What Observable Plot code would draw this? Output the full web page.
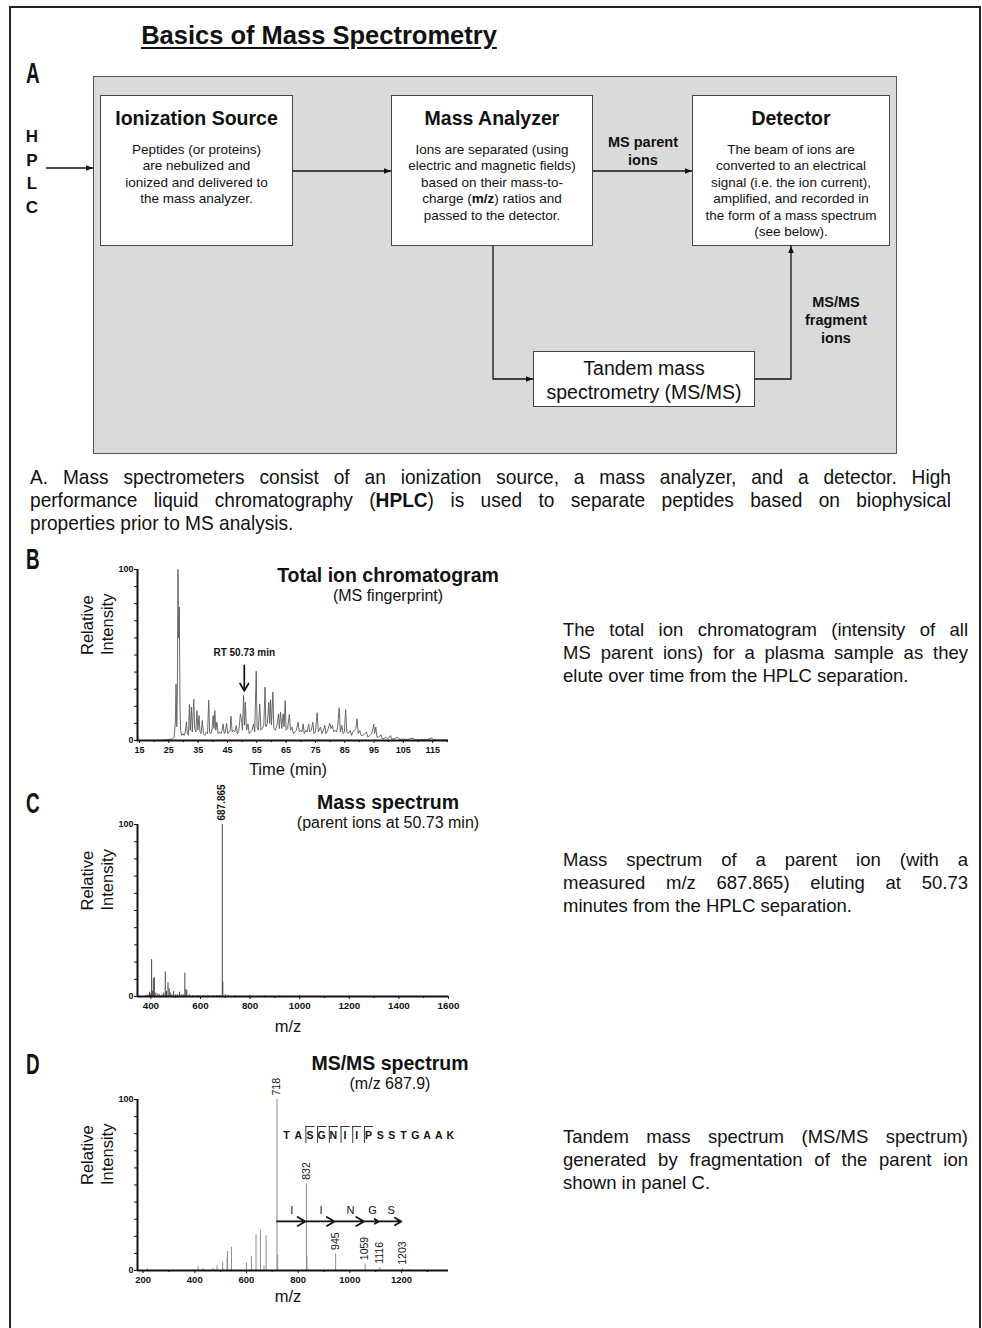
<!DOCTYPE html>
<html>
<head>
<meta charset="utf-8">
<script src="https://cdn.jsdelivr.net/npm/d3@7"></script>
<script src="https://cdn.jsdelivr.net/npm/@observablehq/plot@0.6"></script>
<style>
  body { margin: 0; background: #fff; }
  #page { position: relative; width: 982px; height: 1328px; overflow: hidden;
          font-family: "Liberation Sans", Arial, Helvetica, sans-serif; color: #111; background: #fff; }
  .abs { position: absolute; }
  .frame { left: 9px; top: 6px; width: 968px; height: 1340px; border: 2px solid #222; border-bottom: none; }
  .title { left: 109px; top: 21px; width: 420px; text-align: center; font-weight: bold; font-size: 25.5px; text-decoration: underline; text-underline-offset: 3px; }
  .plet { font-weight: bold; font-size: 29px; line-height: 29px; transform: scaleX(0.65); transform-origin: 0 0; }
  .gray { left: 93px; top: 76px; width: 802px; height: 376px; background: #dadada; border: 1.5px solid #555; }
  .box { background: #fff; border: 1px solid #444; box-sizing: border-box; text-align: center; padding-top: 11px; }
  .box .t { font-weight: bold; font-size: 19.5px; line-height: 22px; }
  .box .b { margin-top: 13px; font-size: 13.5px; line-height: 16.4px; }
  .lbl { font-weight: bold; font-size: 14.5px; line-height: 18px; text-align: center; }
  .hplc { left: 20px; top: 125px; width: 24px; text-align: center; font-weight: bold; font-size: 17px; line-height: 23.5px; }
  .cap { left: 30px; top: 465px; width: 1012px; font-size: 21px; line-height: 23px; transform: scaleX(0.91); transform-origin: 0 0; }
  .jl { text-align: justify; text-align-last: justify; }
  .desc { left: 563px; width: 405px; font-size: 18.5px; line-height: 23px; }
  .desc div { text-align: justify; text-align-last: justify; }
  .desc div.last { text-align: left; text-align-last: left; }
  .ctitle { width: 260px; text-align: center; }
  .ctitle .h { font-weight: bold; font-size: 19.5px; line-height: 22px; }
  .ctitle .s { font-size: 16px; line-height: 20px; }
</style>
</head>
<body>
<div id="page">
  <div class="abs frame"></div>
  <div class="abs title">Basics of Mass Spectrometry</div>

  <div class="abs plet" style="left:26px;top:59px">A</div>
  <div class="abs plet" style="left:26px;top:545px">B</div>
  <div class="abs plet" style="left:26px;top:789px">C</div>
  <div class="abs plet" style="left:26px;top:1050px">D</div>

  <!-- Panel A flow diagram -->
  <div class="abs gray"></div>
  <div class="abs box" style="left:100px;top:95px;width:193px;height:151px">
    <div class="t">Ionization Source</div>
    <div class="b">Peptides (or proteins)<br>are nebulized and<br>ionized and delivered to<br>the mass analyzer.</div>
  </div>
  <div class="abs box" style="left:391px;top:95px;width:202px;height:151px">
    <div class="t">Mass Analyzer</div>
    <div class="b">Ions are separated (using<br>electric and magnetic fields)<br>based on their mass-to-<br>charge (<b>m/z</b>) ratios and<br>passed to the detector.</div>
  </div>
  <div class="abs box" style="left:692px;top:95px;width:198px;height:151px">
    <div class="t">Detector</div>
    <div class="b">The beam of ions are<br>converted to an electrical<br>signal (i.e. the ion current),<br>amplified, and recorded in<br>the form of a mass spectrum<br>(see below).</div>
  </div>
  <div class="abs box" style="left:533px;top:351px;width:222px;height:56px;padding-top:4px;font-size:19.5px;line-height:24px">
    Tandem mass<br>spectrometry (MS/MS)
  </div>
  <div class="abs lbl" style="left:593px;top:133px;width:100px">MS parent<br>ions</div>
  <div class="abs lbl" style="left:786px;top:293px;width:100px">MS/MS<br>fragment<br>ions</div>
  <div class="abs hplc">H<br>P<br>L<br>C</div>

  <svg class="abs" style="left:0;top:0" width="982" height="460">
    <defs>
      <marker id="ah" viewBox="0 0 10 10" refX="10" refY="5" markerWidth="8" markerHeight="7"
              orient="auto" markerUnits="userSpaceOnUse">
        <path d="M0,1 L10,5 L0,9 z" fill="#111"></path>
      </marker>
    </defs>
    <g stroke="#111" stroke-width="1.3" fill="none">
      <path d="M46,168 H93" marker-end="url(#ah)"></path>
      <path d="M293,171 H391" marker-end="url(#ah)"></path>
      <path d="M593,171 H692" marker-end="url(#ah)"></path>
      <path d="M493,246 V379 H533" marker-end="url(#ah)"></path>
      <path d="M755,379 H791 V246" marker-end="url(#ah)"></path>
    </g>
  </svg>

  <div class="abs cap">
    <div class="jl">A. Mass spectrometers consist of an ionization source, a mass analyzer, and a detector. High</div>
    <div class="jl">performance liquid chromatography (<b>HPLC</b>) is used to separate peptides based on biophysical</div>
    <div>properties prior to MS analysis.</div>
  </div>

  <!-- chart containers -->
  <div class="abs" id="chartB" style="left:0;top:540px"></div>
  <div class="abs" id="chartC" style="left:0;top:780px"></div>
  <div class="abs" id="chartD" style="left:0;top:1040px"></div>

  <div class="abs ctitle" style="left:258px;top:564px"><div class="h">Total ion chromatogram</div><div class="s">(MS fingerprint)</div></div>
  <div class="abs ctitle" style="left:258px;top:791px"><div class="h">Mass spectrum</div><div class="s">(parent ions at 50.73 min)</div></div>
  <div class="abs ctitle" style="left:260px;top:1052px"><div class="h">MS/MS spectrum</div><div class="s">(m/z 687.9)</div></div>

  <div class="abs desc" style="top:618px">
    <div>The total ion chromatogram (intensity of all</div>
    <div>MS parent ions) for a plasma sample as they</div>
    <div class="last">elute over time from the HPLC separation.</div>
  </div>
  <div class="abs desc" style="top:848px">
    <div>Mass spectrum of a parent ion (with a</div>
    <div>measured m/z 687.865) eluting at 50.73</div>
    <div class="last">minutes from the HPLC separation.</div>
  </div>
  <div class="abs desc" style="top:1125px">
    <div>Tandem mass spectrum (MS/MS spectrum)</div>
    <div>generated by fragmentation of the parent ion</div>
    <div class="last">shown in panel C.</div>
  </div>
</div>

<script>
// ---------------- Panel B: total ion chromatogram ----------------
const ticTime = [15,20,24,25.5,26.2,26.8,27.2,27.45,27.7,27.9,
  28.1,28.35,28.55,28.8,29.0,29.4,29.8,30.2,30.6,31.0,
  31.3,31.7,32.0,32.3,32.7,33.0,33.5,33.8,34.2,34.6,
  34.9,35.3,35.6,36.0,36.4,36.8,37.3,37.8,38.2,38.6,
  38.9,39.3,39.7,40.1,40.4,40.7,41.0,41.4,41.8,42.3,
  42.8,43.2,43.5,43.9,44.3,44.7,45.1,45.5,45.9,46.2,
  46.6,47.0,47.5,48.0,48.4,48.9,49.4,49.8,50.1,50.5,
  50.8,51.1,51.5,52.0,52.4,52.9,53.4,53.9,54.3,54.8,
  55.1,55.5,56.0,56.4,56.9,57.4,57.8,58.1,58.6,59.1,
  59.4,59.7,60.0,60.5,60.8,61.3,61.9,62.4,62.7,63.1,
  63.5,64.0,64.3,64.7,65.0,65.5,66.1,66.5,67.0,67.5,
  68.0,68.5,69.1,69.5,70.0,70.4,70.8,71.2,71.7,72.2,
  72.7,73.1,73.6,74.1,74.5,75.0,75.6,76.0,76.7,77.2,
  77.7,78.2,78.6,79.2,79.9,80.3,80.8,81.2,81.7,82.2,
  82.6,83.1,83.5,84.0,84.4,84.9,85.3,85.7,86.2,86.9,
  87.3,87.8,88.3,88.8,89.2,89.6,90.1,90.6,91.2,91.8,
  92.4,92.9,93.5,94.2,94.9,95.2,95.6,96.0,96.6,97.4,
  97.8,98.4,99.0,99.5,100.0,100.6,101.0,102.0,103.0,103.5,
  105.0,106.5,107.5,108.3,109,111,113,114.8,115.5,118,
  120];
const ticIntensity = [0,0,0.3,0.8,1,2,10,33,8,30,
  100,60,78,20,6,3,4,3,5,11,
  4,3,21,6,19.5,5,24,7,5,17.5,
  6,14.6,5,4,11.7,4,3,5,4,23.6,
  5,4,6,14.6,7,17.5,6,10.7,4,5,
  4,6,9.7,4,5,10,4,5,6,14.2,
  5,6,5,8.8,4,6,15.6,12,6,26.3,
  9,22.4,6,9.7,4,5,6,9.7,5,40.5,
  8,6,21.4,6,7,9,31.2,8,10,22.4,
  10,23.8,9,28.3,7,6,9,15.6,7,16.6,
  7,15.6,8,23.4,6,7,15.2,6,7.8,4,
  5,6,10.7,5,6,5,9.7,4,6,5,
  9.7,5,6,10.7,4,5,16.2,5,7.8,4,
  6,8.8,4,6,10.1,7,8.8,5,6,5,
  8,19.1,5,8.8,4,5,18.1,5,4,5.8,
  3,5,6,7,12.7,4,5.8,3,3,4,
  4.9,2,3,4,9.4,4,7.8,2,2,3.3,
  1,1.2,2,1,1.5,2.9,1,1,2,0.7,
  0.8,0.6,1.2,1.4,0.5,0.4,0.5,1.6,0.4,0.3,
  0.3];
const ticXDomain = [14.3, 120.4];
const ticMajorTicks = [15,25,35,45,55,65,75,85,95,105,115];
const ticMinorTicks = [20,30,40,50,60,70,80,90,100,110,120];
const rtMarkerTime = 50.73;
const rtMarkerLabel = "RT 50.73 min";

// ---------------- Panel C: mass spectrum ----------------
const msMz = [380,388,395,399,403,407,410,414,420,428,435,445,452,458,463,469,474,478,485,492,
  500,508,515,522,530,537,541,545,555,570,590,610,630,650,665,678,687.865,690,700,712,740,800,860,920,1000];
const msIntensity = [0.5,1,2.5,1.5,21.4,3,10.3,11,2,1.5,1,1,2,14.2,3,8,4.5,2,1,3,
  1,1,2.5,1,1,13.6,4,3.5,1,0.5,0.5,0.5,0.5,0.5,0.5,0.7,100,8.3,1,0.7,0.5,0.5,0.4,0.4,0.3];
const parentMz = 687.865;
const parentLabel = "687.865";
const msXDomain = [346, 1600];
const msMajorTicks = [400,600,800,1000,1200,1400,1600];
const msMinorTicks = [500,700,900,1100,1300,1500];

// ---------------- Panel D: MS/MS spectrum ----------------
const msmsMz = [217,413,432,471,486,508,525,527,542,600,619,637,654,668,676,718,721,832,834,945,1059,1116,1203,1232];
const msmsIntensity = [1,2.3,1,1.4,2.7,4.9,7.6,11.1,13.6,4.3,8.2,20.9,23.6,2.7,20.3,100,9,50.7,8,9.7,3.7,1.6,1,0.5];
const fragmentMz = [718, 832, 945, 1059, 1116, 1203];
const fragmentResidues = ["I", "I", "N", "G", "S"];
const peptideSequence = ["T","A","S","G","N","I","I","P","S","S","T","G","A","A","K"];
const cleavageSites = [2, 3, 4, 5, 6, 7];
const msmsXDomain = [178.5, 1381.6];
const msmsMajorTicks = [200,400,600,800,1000,1200];
const msmsMinorTicks = [300,500,700,900,1100,1300];

const yTicks = d3.range(0, 101, 10);
const FONT = "'Liberation Sans', Arial, Helvetica, sans-serif";

function frameMarks(xDomain, majorTicks, minorTicks, xLabel, labelDy, tickFont) {
  return [
    Plot.axisY({ticks: yTicks, tickSize: 3, tickPadding: 1, label: null, fontSize: 9, fontWeight: "bold",
      tickFormat: d => (d === 0 || d === 100) ? String(d) : ""}),
    Plot.axisX({ticks: majorTicks, tickSize: 3, tickPadding: 3, label: null, fontSize: tickFont, fontWeight: "bold",
      tickFormat: d => String(d)}),
    Plot.axisX({ticks: minorTicks.filter(t => t <= xDomain[1]), tickSize: 2, label: null, tickFormat: () => ""}),
    Plot.ruleY([0], {stroke: "#111", strokeWidth: 2}),
    Plot.ruleX([xDomain[0]], {y1: 0, y2: 100, stroke: "#111", strokeWidth: 2}),
    Plot.text(["Relative"], {frameAnchor: "left", dx: -50, rotate: -90, fontSize: 16.5, fontWeight: "normal"}),
    Plot.text(["Intensity"], {frameAnchor: "left", dx: -30, rotate: -90, fontSize: 16.5, fontWeight: "normal"}),
    Plot.text([xLabel], {frameAnchor: "bottom", dx: -5, dy: labelDy, fontSize: 16.5, fontWeight: "normal"})
  ];
}

function chart({xDomain, height, marginTop, marginBottom, marks}) {
  return Plot.plot({
    width: 470, height, marginLeft: 137, marginRight: 22, marginTop, marginBottom,
    style: {background: "transparent", fontFamily: FONT, fontSize: "9.5px", fontWeight: "bold", color: "#111", overflow: "visible"},
    x: {domain: xDomain},
    y: {domain: [0, 100]},
    marks
  });
}

// B
const ticData = ticTime.map((t, i) => ({time: t, intensity: ticIntensity[i]}));
const rtMarker = [{time: rtMarkerTime, label: rtMarkerLabel}];
document.getElementById("chartB").append(chart({
  xDomain: ticXDomain, height: 250, marginTop: 29, marginBottom: 50,
  marks: [
    Plot.line(ticData, {x: "time", y: "intensity", stroke: "#5a5a5a", strokeWidth: 0.9}),
    Plot.arrow(rtMarker, {x1: "time", x2: "time", y1: 44, y2: 29, stroke: "#111", strokeWidth: 1.7, headLength: 8}),
    Plot.text(rtMarker, {x: "time", y: 51, text: "label", fontSize: 10}),
    ...frameMarks(ticXDomain, ticMajorTicks, ticMinorTicks, "Time (min)", 34, 9)
  ]
}));

// C
const msData = msMz.map((mz, i) => ({mz, intensity: msIntensity[i]}));
const parentPeak = msData.filter(d => d.mz === parentMz).map(d => ({...d, label: parentLabel}));
document.getElementById("chartC").append(chart({
  xDomain: msXDomain, height: 260, marginTop: 44, marginBottom: 44,
  marks: [
    Plot.ruleX(msData, {x: "mz", y1: 0, y2: "intensity", stroke: "#444", strokeWidth: 1}),
    Plot.text(parentPeak, {x: "mz", y: "intensity", text: "label", rotate: -90, textAnchor: "start", dy: -4, fontSize: 10}),
    ...frameMarks(msXDomain, msMajorTicks, msMinorTicks, "m/z", 35, 9.8)
  ]
}));

// D
const msmsData = msmsMz.map((mz, i) => ({mz, intensity: msmsIntensity[i]}));
const intensityOf = new Map(msmsData.map(d => [d.mz, d.intensity]));
const fragLabels = fragmentMz.map(mz => ({mz, intensity: intensityOf.get(mz), label: String(mz)}));
const fragSteps = d3.pairs(fragmentMz).map(([a, b], i) => ({from: a, to: b, residue: fragmentResidues[i]}));
const seqStart = 754.8, seqStep = 45.3;  // annotation layout in m/z units
const seqX = i => seqStart + i * seqStep;
document.getElementById("chartD").append(chart({
  xDomain: msmsXDomain, height: 288, marginTop: 59, marginBottom: 58,
  marks: [
    Plot.ruleX(msmsData, {x: "mz", y1: 0, y2: "intensity", stroke: "#8c8c8c", strokeWidth: 1}),
    Plot.text(fragLabels, {x: "mz", y: "intensity", text: "label", rotate: -90, textAnchor: "start", dy: -4, fontSize: 10.5, fontWeight: "normal"}),
    Plot.arrow(fragSteps, {x1: "from", x2: "to", y1: 28.7, y2: 28.7, stroke: "#111", strokeWidth: 1.7, headLength: 8, insetEnd: 1}),
    Plot.text(fragSteps, {x: d => (d.from + d.to) / 2, y: 35.1, text: "residue", fontSize: 11, fontWeight: "normal"}),
    Plot.text(peptideSequence, {x: (d, i) => seqX(i), y: 79, fontSize: 10.5}),
    Plot.ruleX(cleavageSites, {x: i => seqX(i) - 15.5, y1: 74.3, y2: 84.2, stroke: "#333", strokeWidth: 1}),
    Plot.ruleY(cleavageSites, {y: 84.2, x1: i => seqX(i) - 15.5, x2: i => seqX(i) + 20, stroke: "#333", strokeWidth: 1}),
    ...frameMarks(msmsXDomain, msmsMajorTicks, msmsMinorTicks, "m/z", 31, 9.5)
  ]
}));
</script>
</body>
</html>
